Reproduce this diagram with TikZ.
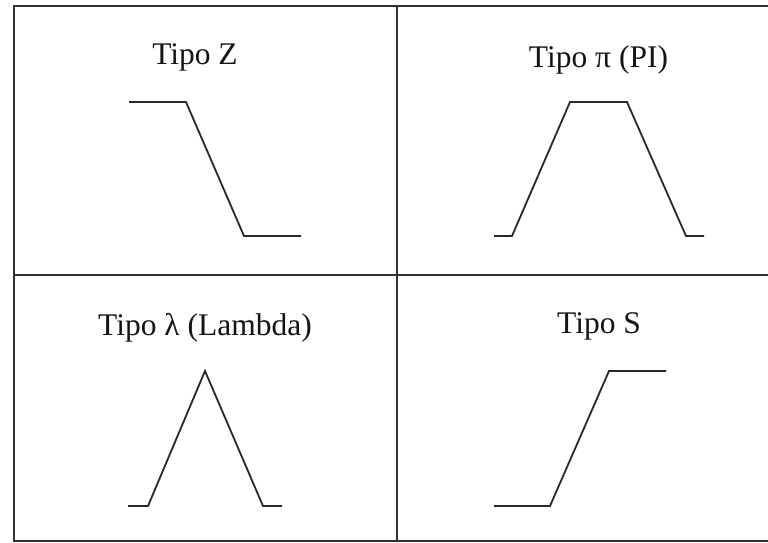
\documentclass[tikz,border=0pt]{standalone}
\usepackage{fontspec}
\setmainfont{Liberation Serif}
\begin{document}
\begin{tikzpicture}[x=1pt,y=-1pt,
  frame/.style={draw={rgb,255:red,50;green,50;blue,50},line width=2pt},
  curve/.style={draw={rgb,255:red,40;green,40;blue,40},line width=1.8pt,line join=miter},
  title/.style={anchor=base,inner sep=0pt,font=\fontsize{31.5}{36}\selectfont,text={rgb,255:red,20;green,20;blue,20}}]
\useasboundingbox (0,0) rectangle (768,543);
\clip (0,0) rectangle (768,543);
% frame
\draw[frame] (768,6) -- (14,6) -- (14,541) -- (768,541);
\draw[frame] (14,275) -- (768,275);
\draw[frame] (397,6) -- (397,541);
% titles
\node[title] (tz) at (195,65) {Tipo Z};
\node[title] (tpi) at (598.5,67) {Tipo π (PI)};
\node[title] (tl) at (205,335) {Tipo λ (Lambda)};
\node[title] (ts) at (599,333) {Tipo S};
% Z
\draw[curve] (129,102) -- (186,102) -- (244,236) -- (301,236);
% Pi
\draw[curve] (494,236) -- (512,236) -- (570,102) -- (627,102) -- (686,236) -- (704,236);
% Lambda
\draw[curve] (128,506) -- (148,506) -- (205,371) -- (263,506) -- (282,506);
% S
\draw[curve] (494,506) -- (550,506) -- (609,371) -- (666,371);
\end{tikzpicture}
\end{document}
